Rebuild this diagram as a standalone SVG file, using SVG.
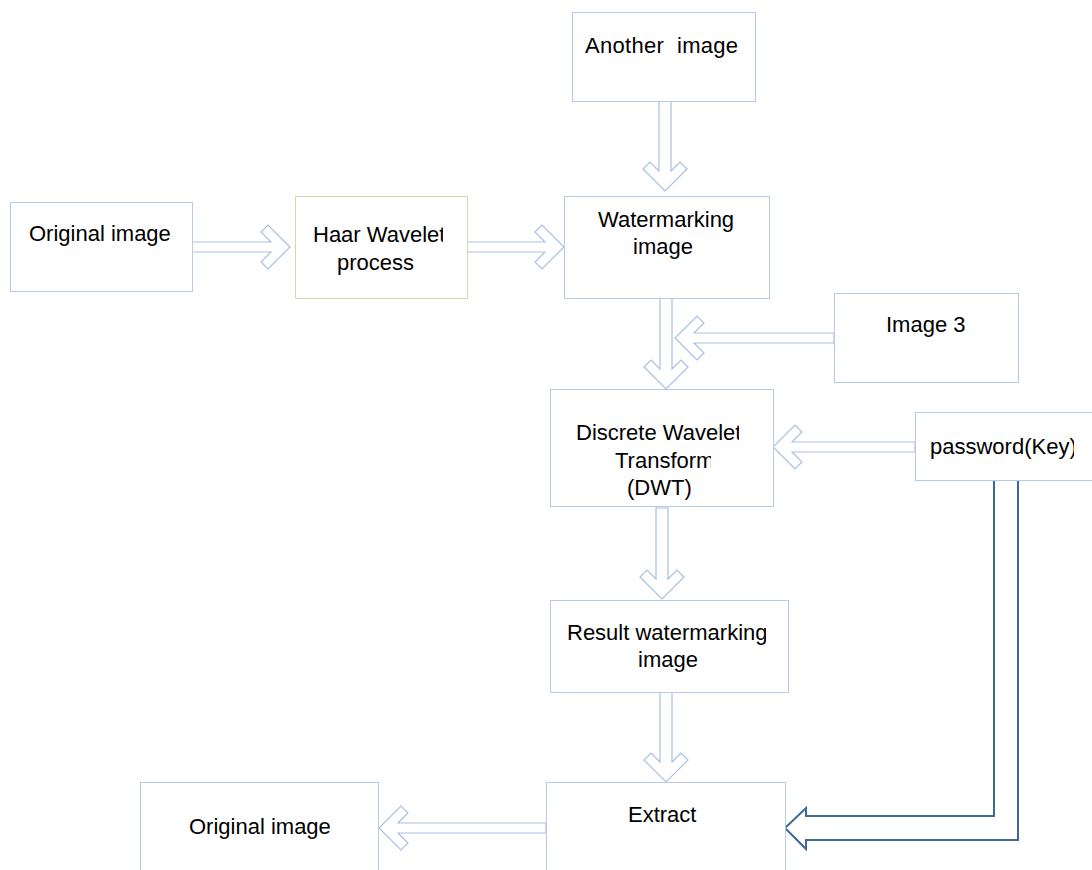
<svg xmlns="http://www.w3.org/2000/svg" width="1092" height="870" viewBox="0 0 1092 870">
  <style>
    .box { fill: #ffffff; stroke: #b7cbe5; stroke-width: 1; }
    .box-warm { fill: #ffffff; stroke: #dcd4ae; stroke-width: 1; }
    .label { font-family: "Liberation Sans", Arial, sans-serif; font-size: 22px; fill: #000000; }
    .flow { fill: #ffffff; stroke: #a9c0e0; stroke-width: 1.2; stroke-linejoin: miter; }
    .key-flow { fill: none; stroke: #41689c; stroke-width: 2; stroke-linejoin: miter; }
  </style>
  <defs>
    <clipPath id="clip-haar"><rect x="290" y="200" width="153" height="60"/></clipPath>
    <clipPath id="clip-wm"><rect x="560" y="200" width="174.5" height="40"/></clipPath>
    <clipPath id="clip-dwt1"><rect x="550" y="410" width="189" height="40"/></clipPath>
    <clipPath id="clip-dwt2"><rect x="550" y="445" width="161" height="30"/></clipPath>
    <clipPath id="clip-result"><rect x="550" y="610" width="216" height="40"/></clipPath>
    <clipPath id="clip-key"><rect x="915" y="420" width="159" height="50"/></clipPath>
  </defs>

  <rect width="1092" height="870" fill="#ffffff"/>

  <!-- connectors -->
  <g id="connectors">
    <polygon class="flow" points="659,101 659,171 650,162 643,169 665,191 687,169 680,162 671,171 671,101"/>
    <polygon class="flow" points="192,242 271,242 261,232 268,225 290,247 268,269 261,262 271,252 192,252"/>
    <polygon class="flow" points="467,242 545,242 535,232 542,225 564,247 542,269 535,262 545,252 467,252"/>
    <polygon class="flow" points="660,298 660,369 651,360 644,367 666,389 688,367 681,360 672,369 672,298"/>
    <polygon class="flow" points="834,333 694,333 704,323 697,316 675,338 697,360 704,353 694,343 834,343"/>
    <polygon class="flow" points="915,442 792,442 802,432 795,425 773,447 795,469 802,462 792,452 915,452"/>
    <polygon class="flow" points="656,508 656,579 647,570 640,577 662,599 684,577 677,570 668,579 668,508"/>
    <polygon class="flow" points="660,692 660,762 651,753 644,760 666,782 688,760 681,753 672,762 672,692"/>
    <polygon class="flow" points="546,823 398,823 408,813 401,806 379,828 401,850 408,843 398,833 546,833"/>
    <polyline class="key-flow" points="994,481 994,816 806,816 806,808 785,828 806,849 806,840 1018,840 1018,481"/>
  </g>

  <g id="node-another-image">
    <rect class="box" x="572.5" y="12.5" width="183" height="89"/>
    <text class="label" x="585" y="53" letter-spacing="0.3" xml:space="preserve">Another  image</text>
  </g>

  <g id="node-original-image">
    <rect class="box" x="10.5" y="202.5" width="182" height="89"/>
    <text class="label" x="29" y="241">Original image</text>
  </g>

  <g id="node-haar">
    <rect class="box-warm" x="295.5" y="196.5" width="172" height="102"/>
    <text class="label" x="313" y="242" clip-path="url(#clip-haar)">Haar Wavelet</text>
    <text class="label" x="337" y="270">process</text>
  </g>

  <g id="node-watermarking">
    <rect class="box" x="564.5" y="196.5" width="205" height="102"/>
    <text class="label" x="598" y="227" clip-path="url(#clip-wm)">Watermarking</text>
    <text class="label" x="633" y="254">image</text>
  </g>

  <g id="node-image3">
    <rect class="box" x="834.5" y="293.5" width="184" height="89"/>
    <text class="label" x="886" y="332">Image 3</text>
  </g>

  <g id="node-dwt">
    <rect class="box" x="550.5" y="389.5" width="223" height="117"/>
    <text class="label" x="576" y="440" clip-path="url(#clip-dwt1)">Discrete Wavelet</text>
    <text class="label" x="615" y="468" clip-path="url(#clip-dwt2)">Transform</text>
    <text class="label" x="627" y="495">(DWT)</text>
  </g>

  <g id="node-password">
    <rect class="box" x="915.5" y="412.5" width="190" height="68"/>
    <text class="label" x="930" y="454" clip-path="url(#clip-key)">password(Key)</text>
  </g>

  <g id="node-result">
    <rect class="box" x="550.5" y="600.5" width="238" height="92"/>
    <text class="label" x="567" y="640" clip-path="url(#clip-result)">Result watermarking</text>
    <text class="label" x="638" y="667">image</text>
  </g>

  <g id="node-extract">
    <rect class="box" x="546.5" y="782.5" width="239" height="100"/>
    <text class="label" x="628" y="822">Extract</text>
  </g>

  <g id="node-original-output">
    <rect class="box" x="140.5" y="782.5" width="238" height="100"/>
    <text class="label" x="189" y="834">Original image</text>
  </g>
</svg>
